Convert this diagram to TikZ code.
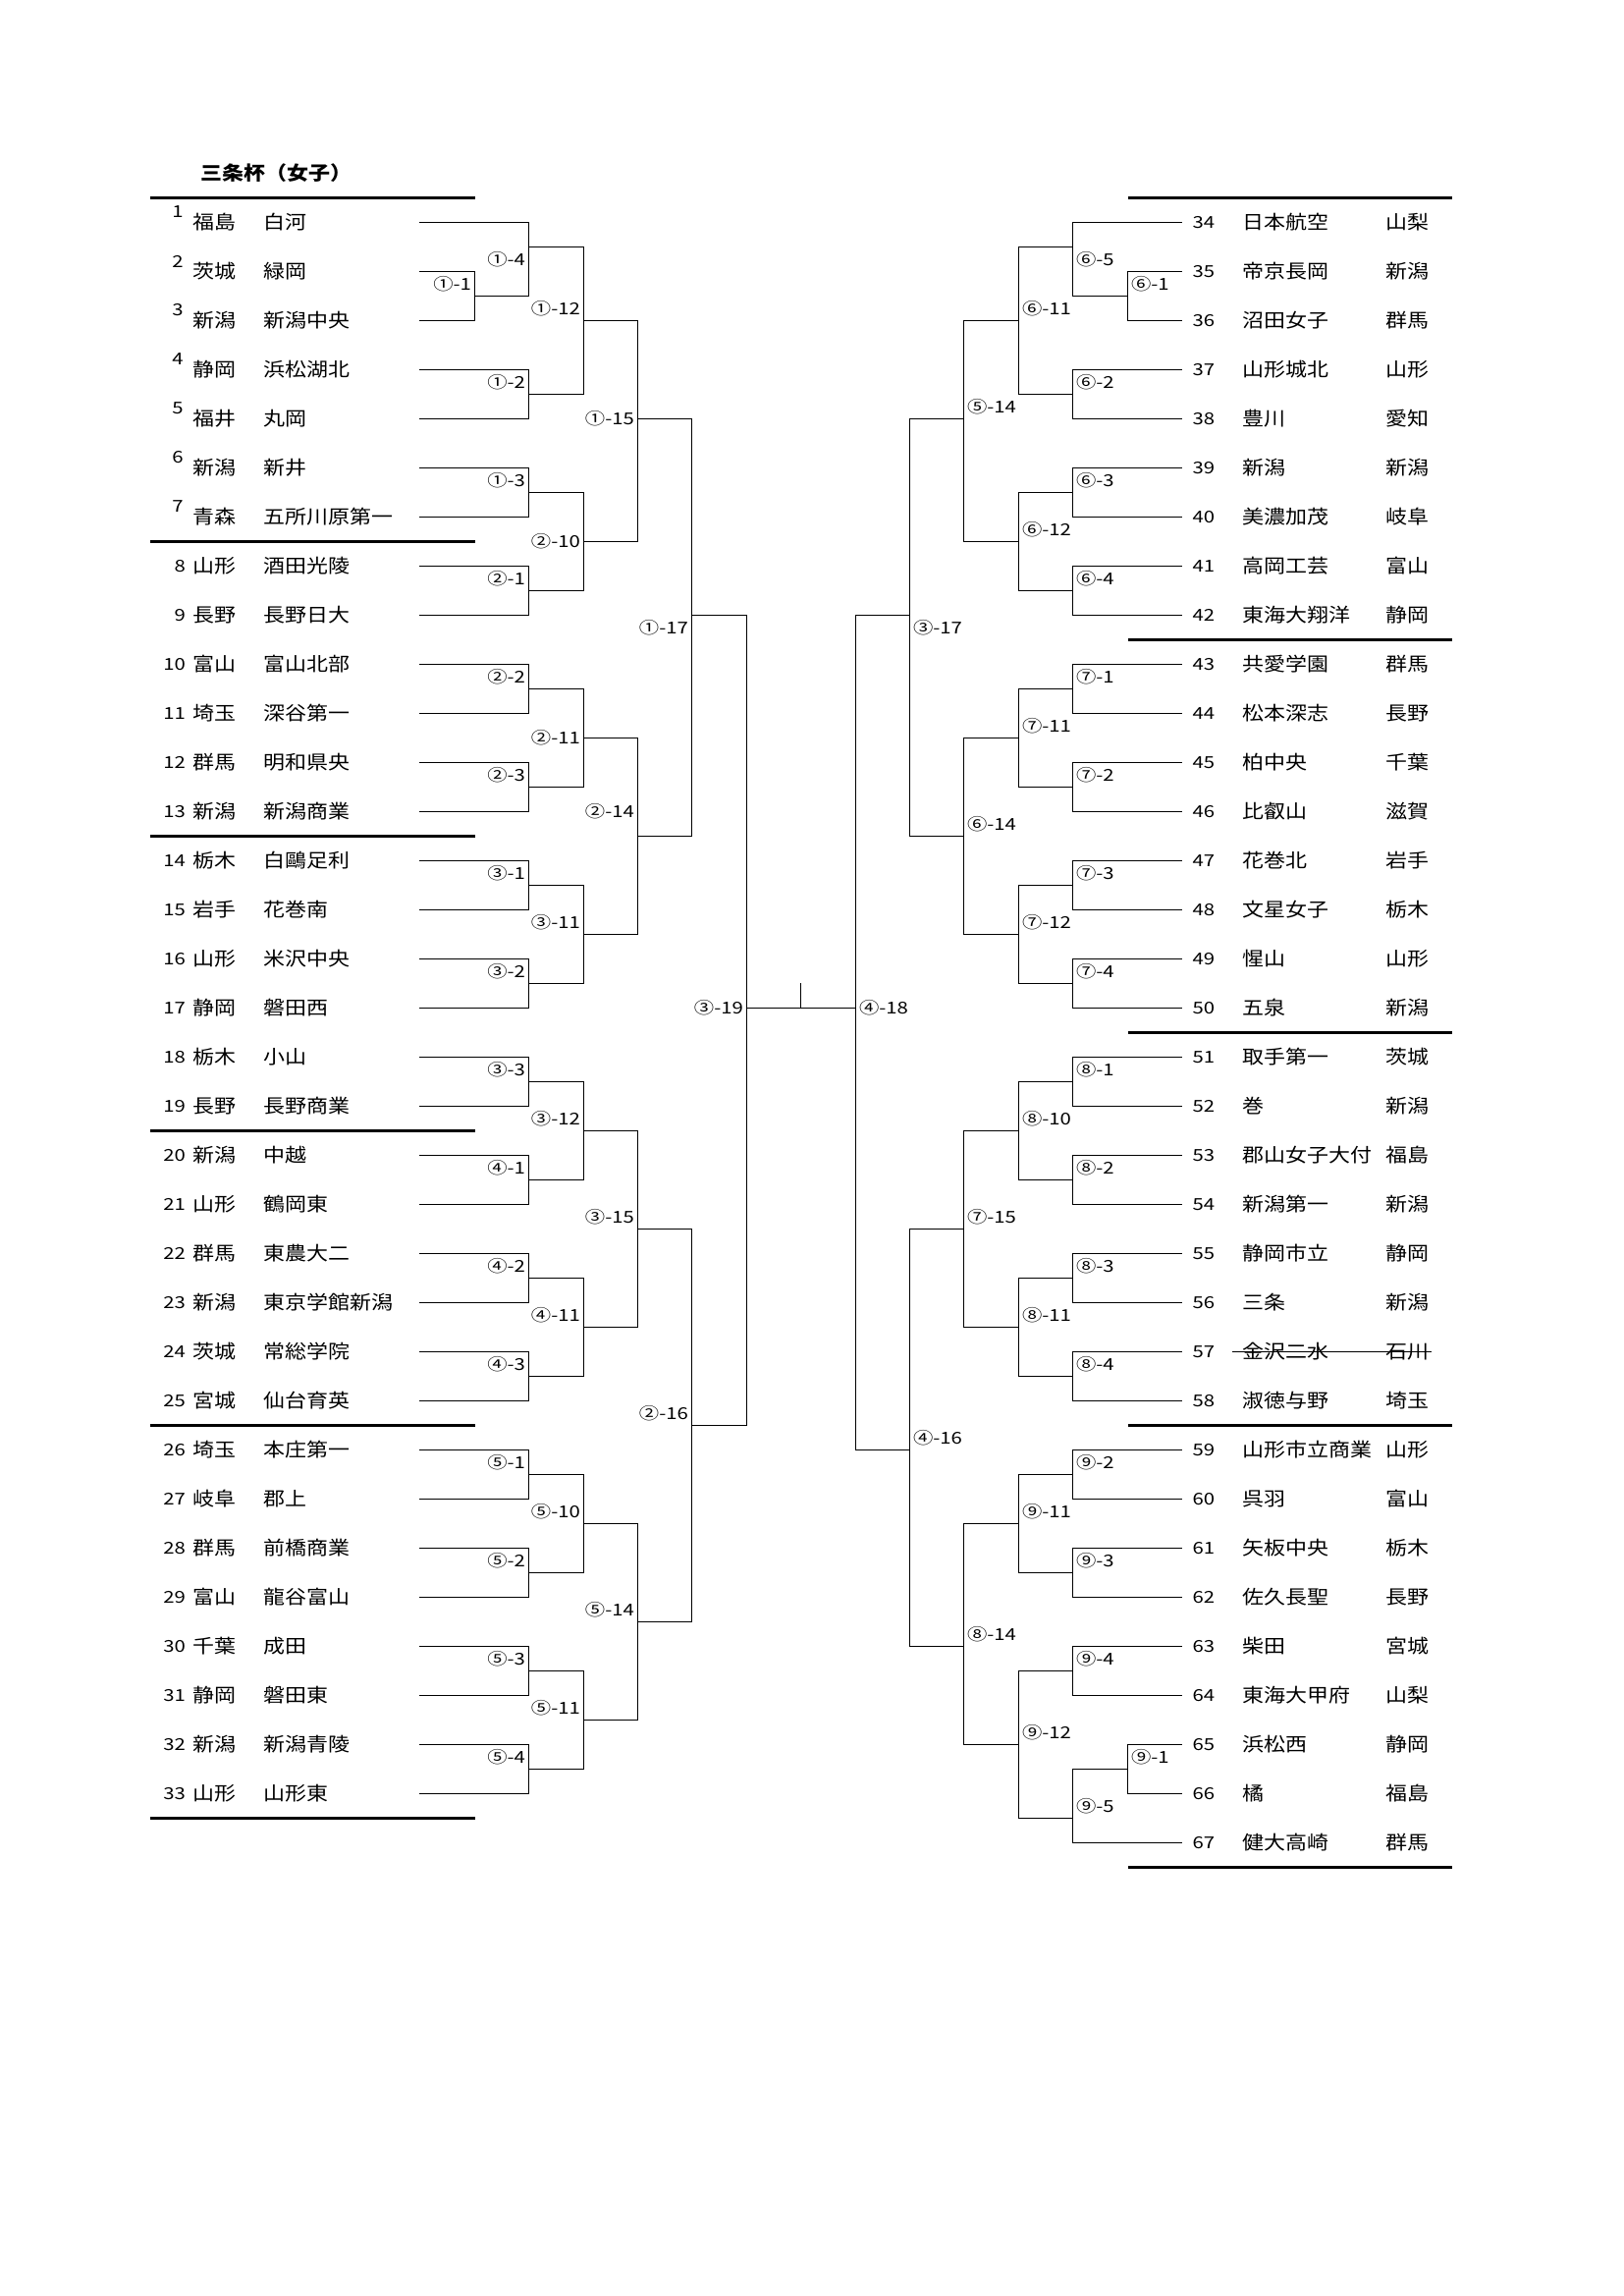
\documentclass[tikz,border=0pt]{standalone}
\usepackage{fontspec}
\setmainfont{Noto Sans CJK JP}[FakeStretch=1.13]
\newfontfamily\numfont{Noto Sans CJK JP}[FakeStretch=1.22]
\newcommand\lx[1]{(round(427.5+55.4*(#1))+0.5)}
\newcommand\rx[1]{(round(1203-55.4*(#1))+0.5)}
\newcommand\yy[1]{(226.5+25*(#1))}
\tikzset{
  br/.style={line width=0.47pt, line cap=rect},
  sepline/.style={line width=1.2pt},
  nm/.style={inner sep=0pt, font=\fontsize{7}{8}\selectfont},
  num/.style={inner sep=0pt, font=\numfont\fontsize{6}{7}\selectfont},
  lab/.style={inner sep=0pt, font=\numfont\fontsize{6}{7}\selectfont},
}
% left team with raised number
\newcommand\lteamA[5]{%
  \node[num] (n#1) at (181,{\yy{#4}-10.5}) {#1};
  \node[nm,anchor=west] (p#1) at (196,{\yy{#4}}) {#2};
  \node[nm,anchor=west] (s#1) at (268,{\yy{#4}}) {#3};
  \coordinate (t#1) at (428,{\yy{#4}});
  \draw[br] (t#1) -- ({\lx{#5}},{\yy{#4}});
}
% left team, inline number
\newcommand\lteam[5]{%
  \node[num,anchor=east] (n#1) at (189.5,{\yy{#4}}) {#1};
  \node[nm,anchor=west] (p#1) at (196,{\yy{#4}}) {#2};
  \node[nm,anchor=west] (s#1) at (268,{\yy{#4}}) {#3};
  \coordinate (t#1) at (428,{\yy{#4}});
  \draw[br] (t#1) -- ({\lx{#5}},{\yy{#4}});
}
% right team
\newcommand\rteam[5]{%
  \node[num,anchor=west] (n#1) at (1214,{\yy{#4}}) {#1};
  \node[nm,anchor=west] (s#1) at (1265,{\yy{#4}}) {#2};
  \node[nm,anchor=west] (p#1) at (1411,{\yy{#4}}) {#3};
  \coordinate (t#1) at (1203.5,{\yy{#4}});
  \draw[br] (t#1) -- ({\rx{#5}},{\yy{#4}});
}
% left match: name, label, level, pa, pb, out, parent level, label p
\newcommand\lmatch[8]{%
  \coordinate (#1) at ({\lx{#3}},{\yy{#6}});
  \draw[br] ({\lx{#3}},{\yy{#4}}) -- ({\lx{#3}},{\yy{#5}});
  \draw[br] (#1) -- ({\lx{#7}},{\yy{#6}});
  \node[lab,anchor=east] (#1l) at ({\lx{#3}-3},{\yy{#8}}) {#2};
}
% right match
\newcommand\rmatch[8]{%
  \coordinate (#1) at ({\rx{#3}},{\yy{#6}});
  \draw[br] ({\rx{#3}},{\yy{#4}}) -- ({\rx{#3}},{\yy{#5}});
  \draw[br] (#1) -- ({\rx{#7}},{\yy{#6}});
  \node[lab,anchor=west] (#1l) at ({\rx{#3}+3},{\yy{#8}}) {#2};
}
\begin{document}
\begin{tikzpicture}[x=0.36pt,y=-0.36pt]
\useasboundingbox[fill=white] (0,0) rectangle (1653,2338);
\node[nm,font=\bfseries\fontsize{7}{8}\selectfont,anchor=west] (title) at (204,176) {三条杯（女子）};
% separators
\foreach \p in {-1,13,25,37,49,65} \draw[sepline] (152.7,{\yy{\p}}) -- ({\lx{1}},{\yy{\p}});
\foreach \p in {-1,17,33,49,67} \draw[sepline] ({\rx{1}},{\yy{\p}}) -- (1479,{\yy{\p}});
% left teams
\lteamA{1}{福島}{白河}{0}{2}
\lteamA{2}{茨城}{緑岡}{2}{1}
\lteamA{3}{新潟}{新潟中央}{4}{1}
\lteamA{4}{静岡}{浜松湖北}{6}{2}
\lteamA{5}{福井}{丸岡}{8}{2}
\lteamA{6}{新潟}{新井}{10}{2}
\lteamA{7}{青森}{五所川原第一}{12}{2}
\lteam{8}{山形}{酒田光陵}{14}{2}
\lteam{9}{長野}{長野日大}{16}{2}
\lteam{10}{富山}{富山北部}{18}{2}
\lteam{11}{埼玉}{深谷第一}{20}{2}
\lteam{12}{群馬}{明和県央}{22}{2}
\lteam{13}{新潟}{新潟商業}{24}{2}
\lteam{14}{栃木}{白鷗足利}{26}{2}
\lteam{15}{岩手}{花巻南}{28}{2}
\lteam{16}{山形}{米沢中央}{30}{2}
\lteam{17}{静岡}{磐田西}{32}{2}
\lteam{18}{栃木}{小山}{34}{2}
\lteam{19}{長野}{長野商業}{36}{2}
\lteam{20}{新潟}{中越}{38}{2}
\lteam{21}{山形}{鶴岡東}{40}{2}
\lteam{22}{群馬}{東農大二}{42}{2}
\lteam{23}{新潟}{東京学館新潟}{44}{2}
\lteam{24}{茨城}{常総学院}{46}{2}
\lteam{25}{宮城}{仙台育英}{48}{2}
\lteam{26}{埼玉}{本庄第一}{50}{2}
\lteam{27}{岐阜}{郡上}{52}{2}
\lteam{28}{群馬}{前橋商業}{54}{2}
\lteam{29}{富山}{龍谷富山}{56}{2}
\lteam{30}{千葉}{成田}{58}{2}
\lteam{31}{静岡}{磐田東}{60}{2}
\lteam{32}{新潟}{新潟青陵}{62}{2}
\lteam{33}{山形}{山形東}{64}{2}
% right teams
\rteam{34}{日本航空}{山梨}{0}{2}
\rteam{35}{帝京長岡}{新潟}{2}{1}
\rteam{36}{沼田女子}{群馬}{4}{1}
\rteam{37}{山形城北}{山形}{6}{2}
\rteam{38}{豊川}{愛知}{8}{2}
\rteam{39}{新潟}{新潟}{10}{2}
\rteam{40}{美濃加茂}{岐阜}{12}{2}
\rteam{41}{高岡工芸}{富山}{14}{2}
\rteam{42}{東海大翔洋}{静岡}{16}{2}
\rteam{43}{共愛学園}{群馬}{18}{2}
\rteam{44}{松本深志}{長野}{20}{2}
\rteam{45}{柏中央}{千葉}{22}{2}
\rteam{46}{比叡山}{滋賀}{24}{2}
\rteam{47}{花巻北}{岩手}{26}{2}
\rteam{48}{文星女子}{栃木}{28}{2}
\rteam{49}{惺山}{山形}{30}{2}
\rteam{50}{五泉}{新潟}{32}{2}
\rteam{51}{取手第一}{茨城}{34}{2}
\rteam{52}{巻}{新潟}{36}{2}
\rteam{53}{郡山女子大付}{福島}{38}{2}
\rteam{54}{新潟第一}{新潟}{40}{2}
\rteam{55}{静岡市立}{静岡}{42}{2}
\rteam{56}{三条}{新潟}{44}{2}
\rteam{57}{金沢二水}{石川}{46}{2}
\rteam{58}{淑徳与野}{埼玉}{48}{2}
\rteam{59}{山形市立商業}{山形}{50}{2}
\rteam{60}{呉羽}{富山}{52}{2}
\rteam{61}{矢板中央}{栃木}{54}{2}
\rteam{62}{佐久長聖}{長野}{56}{2}
\rteam{63}{柴田}{宮城}{58}{2}
\rteam{64}{東海大甲府}{山梨}{60}{2}
\rteam{65}{浜松西}{静岡}{62}{1}
\rteam{66}{橘}{福島}{64}{1}
\rteam{67}{健大高崎}{群馬}{66}{2}
% strike on 57
\draw[br] ([xshift=-3.5pt]s57.west) -- ([xshift=0.5pt]p57.east);
% left matches
\lmatch{a1-1}{①-1}{1}{2}{4}{3}{2}{2.5}
\lmatch{a1-4}{①-4}{2}{0}{3}{1}{3}{1.5}
\lmatch{a1-2}{①-2}{2}{6}{8}{7}{3}{6.5}
\lmatch{a1-12}{①-12}{3}{1}{7}{4}{4}{3.5}
\lmatch{a1-3}{①-3}{2}{10}{12}{11}{3}{10.5}
\lmatch{a2-1}{②-1}{2}{14}{16}{15}{3}{14.5}
\lmatch{a2-10}{②-10}{3}{11}{15}{13}{4}{13}
\lmatch{a1-15}{①-15}{4}{4}{13}{8}{5}{8}
\lmatch{a2-2}{②-2}{2}{18}{20}{19}{3}{18.5}
\lmatch{a2-3}{②-3}{2}{22}{24}{23}{3}{22.5}
\lmatch{a2-11}{②-11}{3}{19}{23}{21}{4}{21}
\lmatch{a3-1}{③-1}{2}{26}{28}{27}{3}{26.5}
\lmatch{a3-2}{③-2}{2}{30}{32}{31}{3}{30.5}
\lmatch{a3-11}{③-11}{3}{27}{31}{29}{4}{28.5}
\lmatch{a2-14}{②-14}{4}{21}{29}{25}{5}{24}
\lmatch{a1-17}{①-17}{5}{8}{25}{16}{6}{16.5}
\lmatch{a3-3}{③-3}{2}{34}{36}{35}{3}{34.5}
\lmatch{a4-1}{④-1}{2}{38}{40}{39}{3}{38.5}
\lmatch{a3-12}{③-12}{3}{35}{39}{37}{4}{36.5}
\lmatch{a4-2}{④-2}{2}{42}{44}{43}{3}{42.5}
\lmatch{a4-3}{④-3}{2}{46}{48}{47}{3}{46.5}
\lmatch{a4-11}{④-11}{3}{43}{47}{45}{4}{44.5}
\lmatch{a3-15}{③-15}{4}{37}{45}{41}{5}{40.5}
\lmatch{a5-1}{⑤-1}{2}{50}{52}{51}{3}{50.5}
\lmatch{a5-2}{⑤-2}{2}{54}{56}{55}{3}{54.5}
\lmatch{a5-10}{⑤-10}{3}{51}{55}{53}{4}{52.5}
\lmatch{a5-3}{⑤-3}{2}{58}{60}{59}{3}{58.5}
\lmatch{a5-4}{⑤-4}{2}{62}{64}{63}{3}{62.5}
\lmatch{a5-11}{⑤-11}{3}{59}{63}{61}{4}{60.5}
\lmatch{a5-14}{⑤-14}{4}{53}{61}{57}{5}{56.5}
\lmatch{a2-16}{②-16}{5}{41}{57}{49}{6}{48.5}
% right matches
\rmatch{b6-1}{⑥-1}{1}{2}{4}{3}{2}{2.5}
\rmatch{b6-5}{⑥-5}{2}{0}{3}{1}{3}{1.5}
\rmatch{b6-2}{⑥-2}{2}{6}{8}{7}{3}{6.5}
\rmatch{b6-11}{⑥-11}{3}{1}{7}{4}{4}{3.5}
\rmatch{b6-3}{⑥-3}{2}{10}{12}{11}{3}{10.5}
\rmatch{b6-4}{⑥-4}{2}{14}{16}{15}{3}{14.5}
\rmatch{b6-12}{⑥-12}{3}{11}{15}{13}{4}{12.5}
\rmatch{b5-14}{⑤-14}{4}{4}{13}{8}{5}{7.5}
\rmatch{b7-1}{⑦-1}{2}{18}{20}{19}{3}{18.5}
\rmatch{b7-2}{⑦-2}{2}{22}{24}{23}{3}{22.5}
\rmatch{b7-11}{⑦-11}{3}{19}{23}{21}{4}{20.5}
\rmatch{b7-3}{⑦-3}{2}{26}{28}{27}{3}{26.5}
\rmatch{b7-4}{⑦-4}{2}{30}{32}{31}{3}{30.5}
\rmatch{b7-12}{⑦-12}{3}{27}{31}{29}{4}{28.5}
\rmatch{b6-14}{⑥-14}{4}{21}{29}{25}{5}{24.5}
\rmatch{b3-17}{③-17}{5}{8}{25}{16}{6}{16.5}
\rmatch{b8-1}{⑧-1}{2}{34}{36}{35}{3}{34.5}
\rmatch{b8-2}{⑧-2}{2}{38}{40}{39}{3}{38.5}
\rmatch{b8-10}{⑧-10}{3}{35}{39}{37}{4}{36.5}
\rmatch{b8-3}{⑧-3}{2}{42}{44}{43}{3}{42.5}
\rmatch{b8-4}{⑧-4}{2}{46}{48}{47}{3}{46.5}
\rmatch{b8-11}{⑧-11}{3}{43}{47}{45}{4}{44.5}
\rmatch{b7-15}{⑦-15}{4}{37}{45}{41}{5}{40.5}
\rmatch{b9-2}{⑨-2}{2}{50}{52}{51}{3}{50.5}
\rmatch{b9-3}{⑨-3}{2}{54}{56}{55}{3}{54.5}
\rmatch{b9-11}{⑨-11}{3}{51}{55}{53}{4}{52.5}
\rmatch{b9-4}{⑨-4}{2}{58}{60}{59}{3}{58.5}
\rmatch{b9-1}{⑨-1}{1}{62}{64}{63}{2}{62.5}
\rmatch{b9-5}{⑨-5}{2}{63}{66}{65}{3}{64.5}
\rmatch{b9-12}{⑨-12}{3}{59}{65}{62}{4}{61.5}
\rmatch{b8-14}{⑧-14}{4}{53}{62}{58}{5}{57.5}
\rmatch{b4-16}{④-16}{5}{41}{58}{50}{6}{49.5}
% semifinals and final
\coordinate (a3-19) at ({\lx{6}},{\yy{32}});
\coordinate (b4-18) at ({\rx{6}},{\yy{32}});
\draw[br] ({\lx{6}},{\yy{16}}) -- ({\lx{6}},{\yy{49}});
\draw[br] ({\rx{6}},{\yy{16}}) -- ({\rx{6}},{\yy{50}});
\node[lab,anchor=east] (a3-19l) at ({\lx{6}-3},{\yy{32}}) {③-19};
\node[lab,anchor=west] (b4-18l) at ({\rx{6}+3},{\yy{32}}) {④-18};
\draw[br] (a3-19) -- (b4-18);
\coordinate (fin) at (815.5,{\yy{32}});
\draw[br] (fin) -- ++(0,-24.7);
\end{tikzpicture}
\end{document}
